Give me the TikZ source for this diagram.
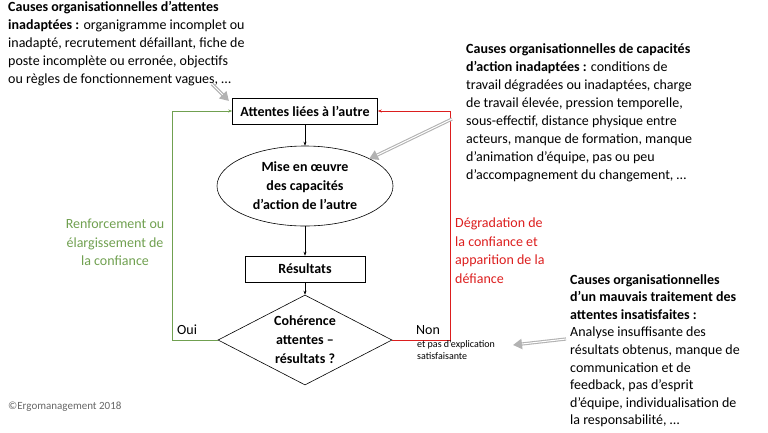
\documentclass[tikz,border=0pt]{standalone}
\usepackage{fontspec}
\setmainfont{Carlito}
\usetikzlibrary{shapes.geometric,arrows.meta}
\definecolor{grn}{RGB}{112,160,80}
\definecolor{rd}{RGB}{220,30,30}
\tikzset{
 x=1pt,y=-1pt,
 box/.style={draw,line width=0.6pt,minimum width=145pt,minimum height=26pt,font=\fontsize{14}{16}\selectfont\bfseries,inner sep=0pt},
 txt/.style={align=left,anchor=north west,inner sep=0pt,font=\fontsize{14}{#1}\selectfont},
 flow/.style={line width=0.5pt,-{Stealth[length=4pt,width=3pt]}},
 big/.style={line width=3.2pt,gray!60,-{Triangle[length=9pt,width=10pt]}},
 bigin/.style={line width=1pt,white,shorten >=9pt}
}
\begin{document}
\begin{tikzpicture}
\useasboundingbox (0,0) rectangle (768,432);
\node[box] (att) at (305,111) {Attentes liées à l’autre};
\node[draw,ellipse,line width=0.6pt,minimum width=176pt,minimum height=80pt,align=center,inner sep=0pt,font=\fontsize{14}{19}\selectfont\bfseries] (mise) at (305,186) {Mise en œuvre\\des capacités\\d’action de l’autre};
\node[box,minimum width=120pt] (res) at (305,269) {Résultats};
\node[draw,diamond,line width=0.6pt,minimum width=174pt,minimum height=90pt,inner sep=0pt,aspect=1.93,align=center,font=\fontsize{14}{19}\selectfont\bfseries] (coh) at (305,340) {Cohérence\\attentes –\\résultats ?};
\draw[flow] (att) -- (mise);
\draw[flow] (mise) -- (res);
\draw[flow] (res) -- (coh);
\coordinate (gl) at (172,340);
\coordinate (rr) at (450,340);
\draw[flow,grn] (coh.west) -- (gl) |- (att.west);
\draw[flow,rd] (coh.east) -- (rr) |- (att.east);
\node[txt=18.5,align=center,anchor=north,text=grn] (renf) at (115,219) {Renforcement ou\\élargissement de\\la confiance};
\node[txt=18.5,text=rd] (deg) at (455,218) {Dégradation de\\la confiance et\\apparition de la\\défiance};
\node[txt=15,anchor=south west] (oui) at (177,335) {Oui};
\node[txt=15,anchor=south west] (non) at (416,335) {Non};
\node[txt=12,font=\fontsize{10}{12}\selectfont] (expl) at (417,340) {et pas d’explication\\satisfaisante};
\node[txt=18] (c1) at (8,1) {\textbf{Causes organisationnelles d’attentes}\\\textbf{inadaptées :} organigramme incomplet ou\\inadapté, recrutement défaillant, fiche de\\poste incomplète ou erronée, objectifs\\ou règles de fonctionnement vagues, …};
\node[txt=18] (c2) at (466,43) {\textbf{Causes organisationnelles de capacités}\\\textbf{d’action inadaptées :} conditions de\\travail dégradées ou inadaptées, charge\\de travail élevée, pression temporelle,\\sous-effectif, distance physique entre\\acteurs, manque de formation, manque\\d’animation d’équipe, pas ou peu\\d’accompagnement du changement, …};
\node[txt=17.6] (c3) at (570,274) {\textbf{Causes organisationnelles}\\\textbf{d’un mauvais traitement des}\\\textbf{attentes insatisfaites :}\\Analyse insuffisante des\\résultats obtenus, manque de\\communication et de\\feedback, pas d’esprit\\d’équipe, individualisation de\\la responsabilité, …};
\node[txt=14,text=gray!80!black,font=\fontsize{11}{13}\selectfont] (copy) at (8,402) {©Ergomanagement 2018};
\coordinate (a1s) at (212,84); \coordinate (a1e) at (229,101);
\coordinate (a2s) at (452,119); \coordinate (a2e) at (369,159);
\coordinate (a3s) at (566,339); \coordinate (a3e) at (513,345);
\foreach \s/\e in {a1s/a1e,a2s/a2e,a3s/a3e}{
 \draw[big] (\s) -- (\e);
 \draw[bigin] (\s) -- (\e);
}
\end{tikzpicture}
\end{document}
